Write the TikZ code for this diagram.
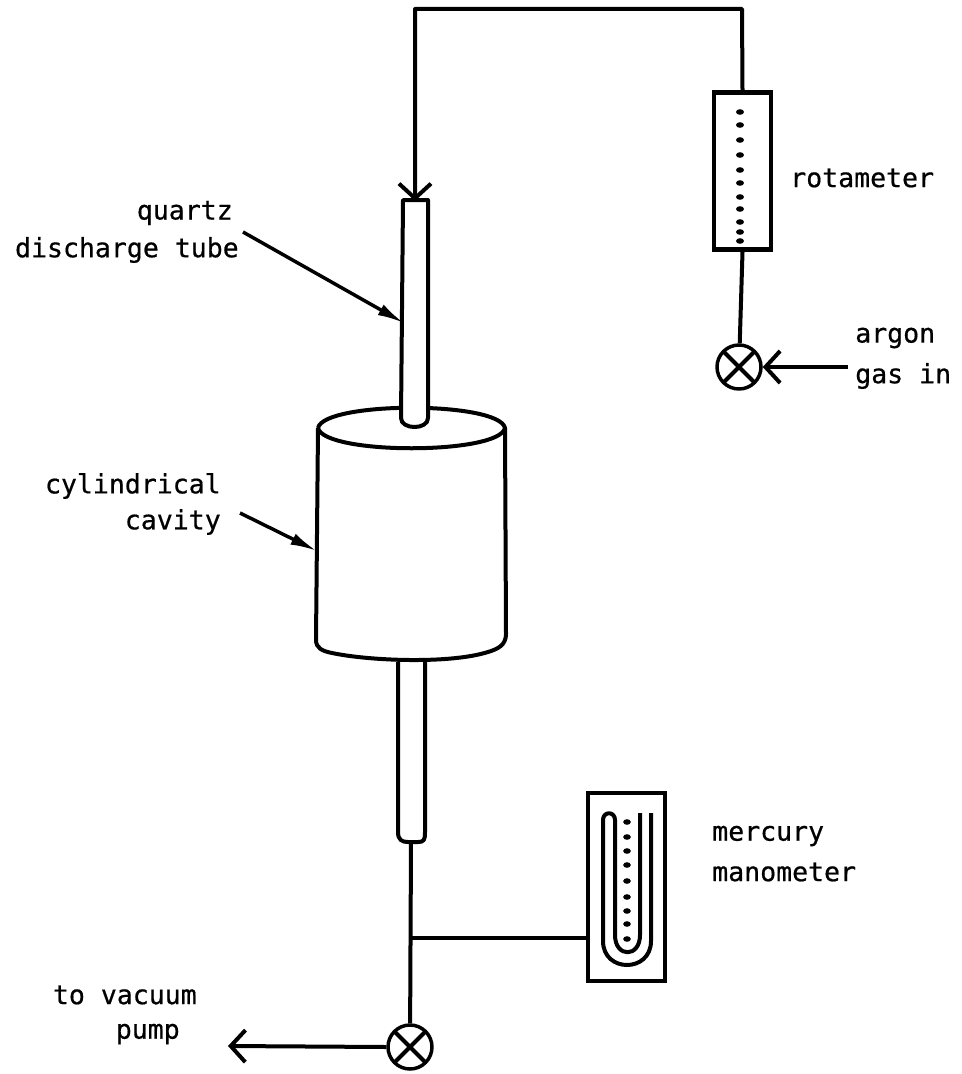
\documentclass[tikz,border=0pt]{standalone}
\usepackage{fontspec}
\setmonofont{DejaVu Sans Mono}[FakeBold=0.6]
\usetikzlibrary{arrows.meta}
\tikzset{
  pipe/.style={line width=3pt, line join=round},
  leader/.style={line width=2.6pt, -{Latex[length=20pt,width=9pt]}},
  barb/.style={-{Straight Barb[length=11pt,width=24pt,line width=3pt]}},
  valve/.style={circle, draw, line width=2.6pt, inner sep=0pt, minimum size=33pt,
    path picture={
      \draw[line width=3pt] (path picture bounding box.north west) -- (path picture bounding box.south east);
      \draw[line width=3pt] (path picture bounding box.north east) -- (path picture bounding box.south west);
    }},
  panel/.style={draw, line width=3.4pt, inner sep=0pt},
  note/.style={font=\ttfamily\fontsize{19.9}{23}\selectfont, inner sep=0pt, align=left}
}
\begin{document}
\begin{tikzpicture}[>=latex, x=0.75pt, y=-0.75pt]
  \useasboundingbox (0,0) rectangle (961,1074);
  % Rotameter and the argon inlet valve.
  \node[panel, minimum width=43pt, minimum height=118pt] (rotameter) at (742.5,171) {};
  \foreach \y in {112,125,140,155,170,183,197,209,222,232,241} {
    \fill (740,\y) ellipse (4 and 2.8);
  }
  \node[valve] (argonvalve) at (739,367) {};
  \draw[pipe] (rotameter.south) -- (argonvalve);
  \coordinate (argonend) at (848,367);
  \draw[pipe, barb] (argonend) -- (argonvalve.east);
  % Line along the top, ending at the tube inlet.
  \coordinate (pipecorner) at (742,9);
  \coordinate (inlet) at (415,201);
  \draw[pipe, barb] (rotameter.north) -- (pipecorner) -| (inlet);
  % Cavity: body first, then the rim ellipse.
  \draw[pipe, fill=white] (318,428) -- (316,640)
    .. controls (316,648) and (322,651) .. (332,653)
    .. controls (370,661) and (450,664) .. (488,652)
    .. controls (498,649) and (506,645) .. (506,634)
    -- (505,428);
  \draw[pipe] (318,428) .. controls (324,401) and (499,401) .. (505,428)
    .. controls (499,455) and (324,455) .. (318,428);
  \coordinate (cavitybottom) at (412,661);
  % Upper quartz tube, in front of the rim.
  \draw[pipe, fill=white] (403,200) -- (428,200) -- (428,418)
    .. controls (428,430) and (401,430) .. (401,418) -- cycle;
  % Lower tube and the line down to the pump valve.
  \draw[pipe] (398,662) -- (398,832) .. controls (398,840) and (402,842) .. (408,842)
    -- (418,842) .. controls (424,842) and (425,840) .. (425,832) -- (425,662);
  \coordinate (tubeend) at (411,842);
  \node[valve] (pumpvalve) at (410,1047) {};
  \draw[pipe] (tubeend) -- (pumpvalve);
  \coordinate (pumpend) at (228,1046);
  \draw[pipe, barb] (pumpvalve.west) -- (pumpend);
  % Manometer with its U-tube.
  \node[panel, minimum width=58pt, minimum height=141pt] (manometer) at (626.5,887) {};
  \coordinate (branch) at (411,938);
  \draw[pipe] (branch) -- (branch -| manometer.west);
  \draw[pipe] (651,813) -- (651,941) .. controls (651,973) and (603,973) .. (603,941)
    -- (603,820) .. controls (603,811) and (615,811) .. (615,820)
    -- (615,935) .. controls (615,958) and (640,958) .. (640,935) -- (640,813);
  \foreach \y in {822,837,851,865,881,897,911,924,939} {
    \fill (627,\y) ellipse (3.8 and 2.8);
  }
  % Labels, with their leaders.
  \node[note, anchor=east] (quartz) at (233,213) {quartz};
  \node[note, anchor=east] (discharge) at (239,250) {discharge tube};
  \coordinate (tubeside) at (404,323);
  \draw[leader] (243,232) -- (tubeside);
  \node[note, anchor=east] (cylindrical) at (221,486) {cylindrical};
  \node[note, anchor=east] (cavity) at (221,522) {cavity};
  \coordinate (cavityside) at (317,551);
  \draw[leader] (240,513) -- (cavityside);
  \node[note, anchor=west] (rotalabel) at (790,178) {rotameter};
  \node[note, anchor=west] (argon) at (855,338) {argon};
  \node[note, anchor=west] (gasin) at (855,376) {gas in};
  \node[note, anchor=west] (mercury) at (712,836) {mercury};
  \node[note, anchor=west] (manolabel) at (712,872) {manometer};
  \node[note, anchor=east] (vacuum) at (197,995) {to vacuum};
  \node[note, anchor=east] (pump) at (180,1034) {pump};
\end{tikzpicture}
\end{document}
